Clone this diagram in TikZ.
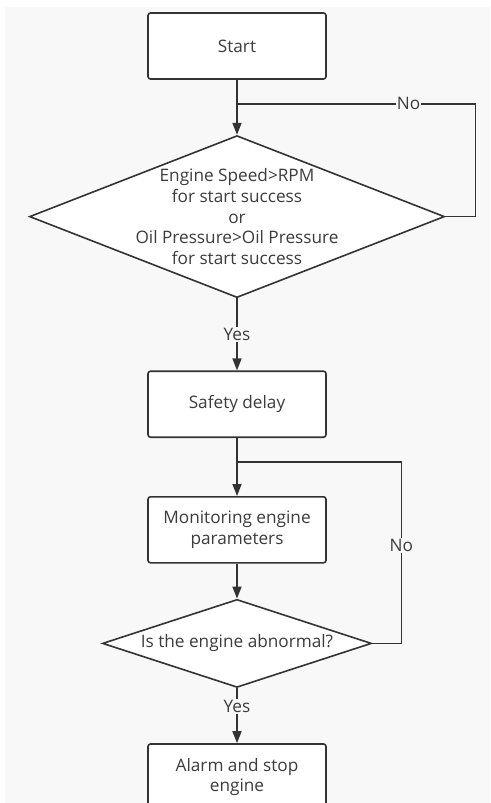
\documentclass[tikz,border=0pt]{standalone}
\usepackage{fontspec}
\setmainfont{Open Sans}
\usepackage{xcolor}
\usepackage{tikz}
\usetikzlibrary{positioning,arrows.meta,shapes.geometric}
\definecolor{linecolor}{RGB}{51,51,51}
\definecolor{textcolor}{RGB}{60,60,60}
\definecolor{pagecolor}{RGB}{248,248,248}
\tikzset{
  flow box/.style={
    rectangle,
    rounded corners=2.5pt,
    draw=linecolor,
    fill=white,
    line width=1.6pt,
    minimum width=178pt,
    minimum height=66pt,
    align=center,
    text=textcolor,
    font=\fontsize{17.2}{20.7}\selectfont
  },
  flow decision/.style={
    diamond,
    draw=linecolor,
    fill=white,
    line width=1.6pt,
    inner sep=-10pt,
    align=center,
    text=textcolor,
    font=\fontsize{17.2}{20.7}\selectfont
  },
  arrow/.style={
    -{Triangle[length=12pt,width=9pt]},
    draw=linecolor,
    line width=1.6pt
  },
  flow line/.style={
    draw=linecolor,
    line width=1.6pt
  },
  flow label/.style={
    fill=pagecolor,
    text=textcolor,
    inner sep=1pt,
    font=\fontsize{17.2}{20.7}\selectfont
  }
}

\begin{document}
\begin{tikzpicture}[x=1pt,y=-1pt]
  % white page with the grey canvas on it
  \fill[white] (0,0) rectangle (490,803);
  \fill[pagecolor] (5,7) rectangle (490,803);
  \useasboundingbox (0,0) rectangle (490,803);

  \node[flow box] (start) at (237,46) {Start};
  \node[flow decision, aspect=2.56, minimum width=415pt, minimum height=162pt,
        below=55pt of start] (rpm)
    {Engine Speed>RPM\\for start success\\or\\Oil Pressure>Oil Pressure\\for start success};
  \node[flow box, below=72pt of rpm] (delay) {Safety delay};
  \node[flow box, below=58pt of delay] (monitor) {Monitoring engine\\parameters};
  \node[flow decision, aspect=3.06, minimum width=269pt, minimum height=88pt,
        below=35pt of monitor] (abnormal) {Is the engine abnormal?};
  \node[flow box, below=55pt of abnormal] (alarm) {Alarm and stop\\engine};

  % where the No branches join the main line again
  \coordinate[below=24pt of start] (j1);
  \coordinate[below=24pt of delay] (j2);

  \draw[arrow] (start) -- (rpm);
  \draw[flow line] (rpm.east) -- ++(30,0) |- (j1) node[flow label, pos=0.64] {No};
  \draw[arrow] (rpm) -- node[flow label] {Yes} (delay);
  \draw[arrow] (delay) -- (monitor);
  \draw[arrow] (monitor) -- (abnormal);
  \draw[flow line] (abnormal.east) -- ++(29,0) |- (j2) node[flow label, pos=0.27] {No};
  \draw[arrow] (abnormal) -- node[flow label, pos=0.33] {Yes} (alarm);
\end{tikzpicture}
\end{document}
